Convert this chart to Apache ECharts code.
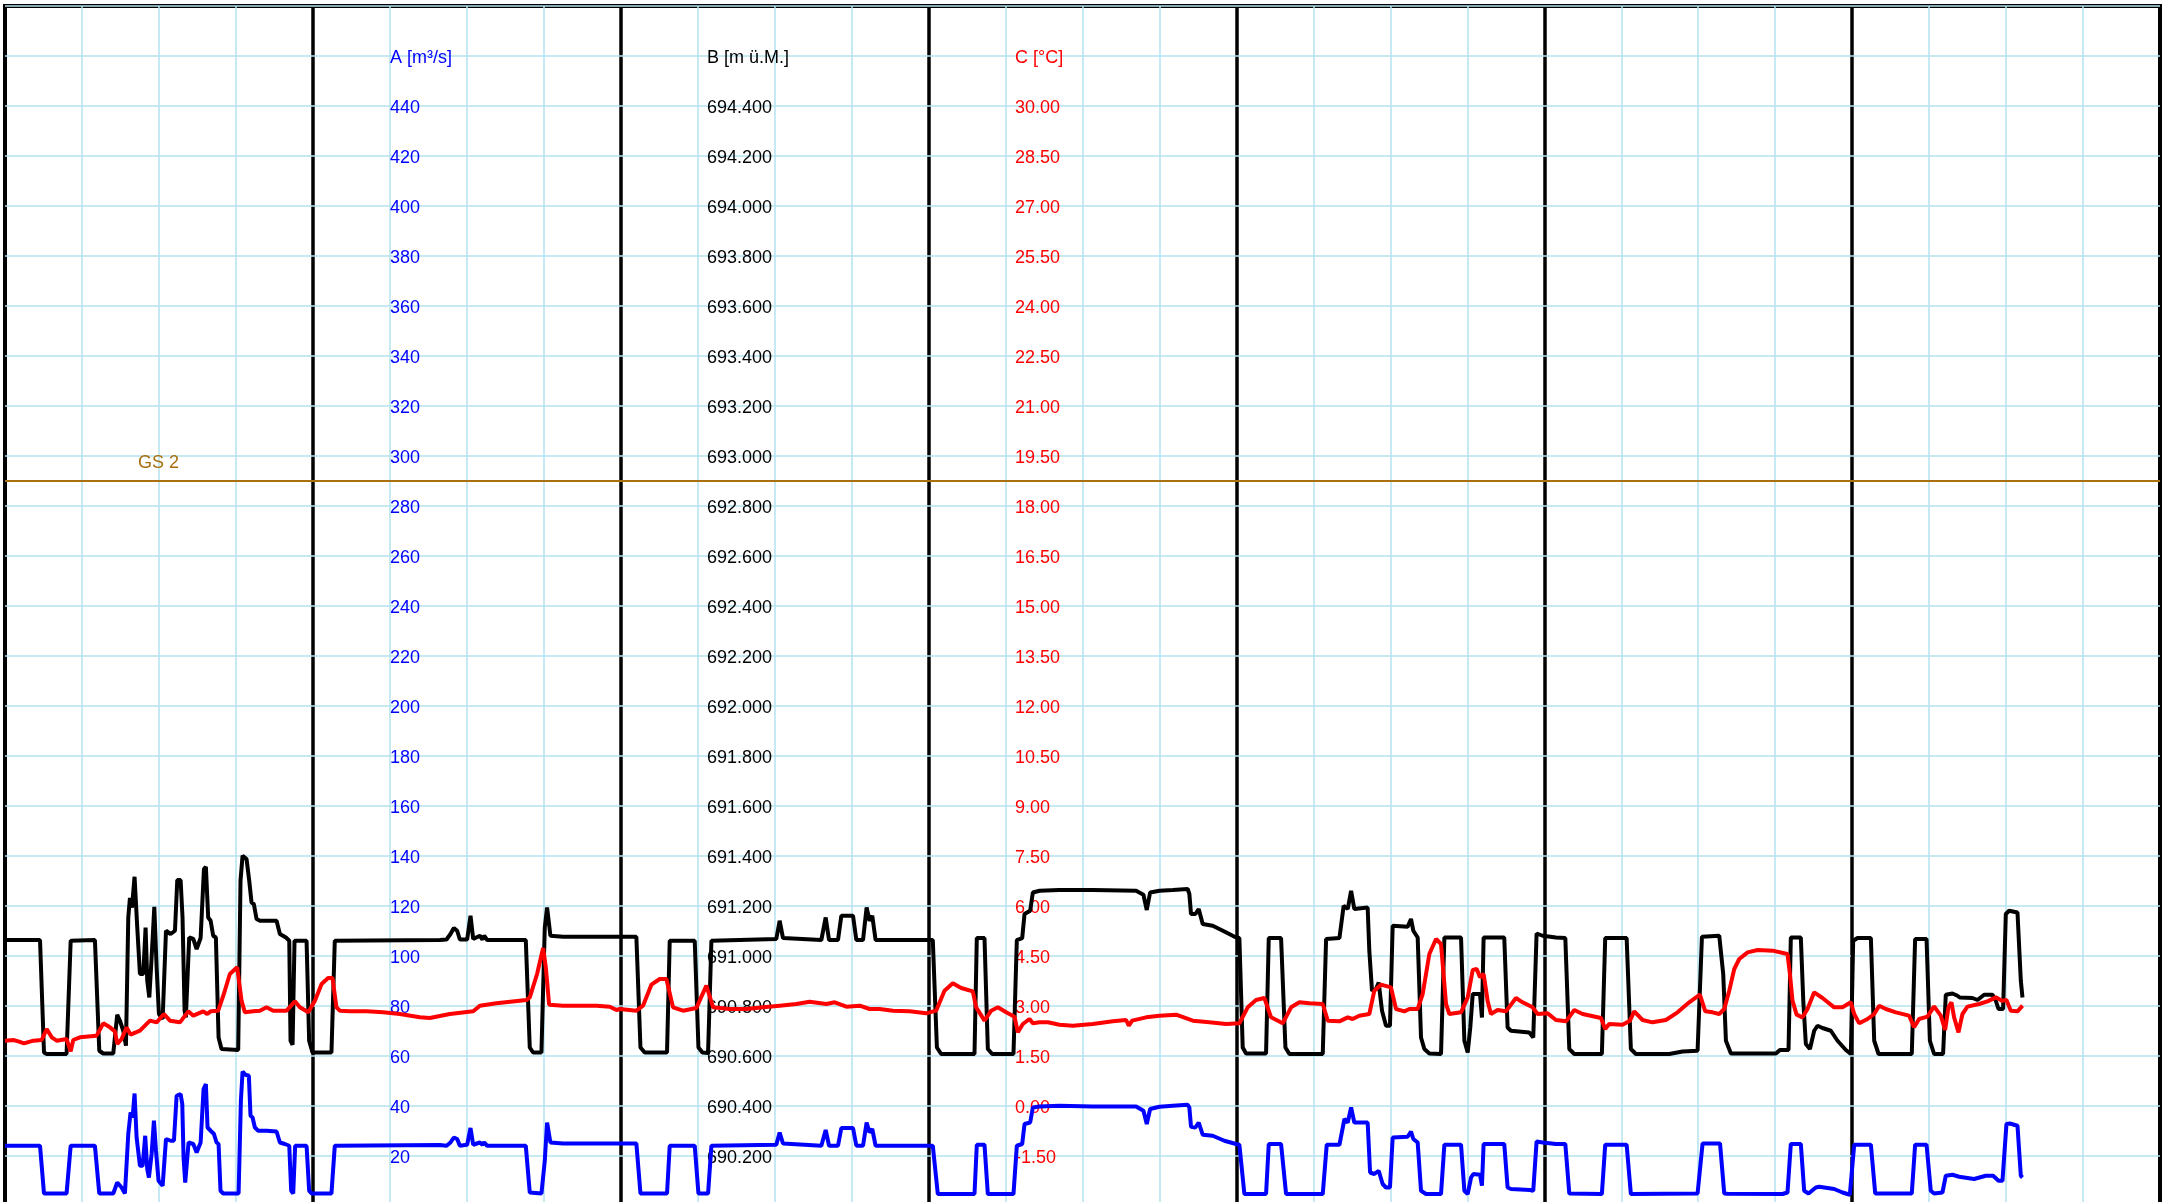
<!DOCTYPE html>
<html><head><meta charset="utf-8">
<script src="https://cdn.jsdelivr.net/npm/echarts@6/dist/echarts.min.js"></script>
<style>html,body{margin:0;padding:0;background:#fff}#c{width:2164px;height:1202px}</style>
</head><body><div id="c"></div>
<script>
// ---- Data (x = hours from start of the 7-day window) ----
const flowTime = [0,2.73,3.04,4.80,5.12,7.01,7.35,8.44,8.75,9.09,9.35,9.61,9.79,9.95,10.10,10.26,10.52,10.73,10.93,11.09,11.22,11.43,11.61,11.77,11.97,12.29,12.39,12.55,12.91,13.17,13.38,13.69,13.82,13.92,14.05,14.31,14.68,14.94,15.25,15.48,15.66,15.79,16.03,16.29,16.49,16.65,16.80,17.01,18.21,18.39,18.52,18.75,19.01,19.14,19.30,19.48,19.74,20.39,21.17,21.43,21.82,22.16,22.31,22.47,22.62,23.51,23.71,23.92,25.45,25.71,33.90,
34.42,34.73,34.99,35.25,35.46,36.03,36.29,36.50,37.02,37.22,37.35,37.59,40.60,40.91,41.82,42.08,42.26,42.52,43.51,49.22,49.54,51.61,51.82,53.77,54.06,54.81,55.07,60.13,60.39,60.65,63.64,63.98,64.24,64.94,65.20,66.11,66.37,66.89,67.17,67.40,67.61,67.87,72.33,72.72,75.58,75.76,76.36,76.62,78.62,78.88,79.30,79.48,79.92,80.13,80.65,82.20,84.80,88.18,88.75,89.01,89.27,90.00,91.04,92.20,92.33,92.46,92.80,93.06,93.37,94.15,95.06,95.97,96.23,96.62,98.31,98.52,99.48,99.87,102.73,103.04,104.03,104.42,104.68,104.94,105.19,106.23,106.42,106.75,107.09,107.40,107.66,107.97,108.18,109.35,109.61,109.79,110.13,110.39,110.78,111.95,112.21,113.51,113.77,114.03,114.29,114.47,114.99,115.14,115.27,116.88,117.14,117.40,118.88,119.14,119.40,119.87,120.91,121.64,121.95,124.49,124.75,126.42,126.75,131.95,132.34,133.70,134.03,134.29,138.57,138.96,139.09,139.22,140.00,140.26,140.60,141.17,141.43,142.60,143.25,143.82,144.16,145.46,145.80,148.65,148.91,149.80,150.13,150.39,151.04,151.30,151.82,152.34,153.51,154.42,154.99,155.41,155.72,156.03,156.29,156.89,157.15,157.28];
const flowValue = [24.1,24.1,5.0,5.0,24.1,24.1,5.0,5.0,9.4,7.4,5.0,28.8,37.4,35.4,45.0,27.4,16.1,16.1,28.1,14.8,11.4,20.8,34.1,22.1,10.1,8.1,8.8,26.8,26.1,26.1,44.1,44.8,40.8,19.4,9.4,25.4,24.8,21.4,25.4,46.8,48.8,31.4,30.1,28.8,25.4,24.8,6.1,5.0,5.0,42.1,53.8,52.5,52.1,36.1,35.4,31.4,30.1,30.1,29.8,25.4,24.8,24.1,6.1,5.0,24.1,24.1,6.1,5.0,5.0,24.1,24.4,
24.1,25.4,27.4,26.8,24.1,24.5,31.2,24.5,25.4,24.5,25.4,24.1,24.1,5.4,5.0,18.1,33.4,25.4,25.0,25.0,5.0,5.0,24.1,24.1,5.0,5.0,24.1,24.5,29.4,25.0,24.1,30.4,24.1,24.1,31.2,31.2,24.1,24.1,33.4,29.4,30.8,24.1,24.1,4.8,4.8,24.5,24.5,4.8,4.8,24.1,24.8,32.8,33.4,39.4,39.8,40.1,39.8,39.8,38.1,32.8,38.8,39.7,40.1,40.5,39.4,31.7,31.4,33.4,28.5,28.1,26.1,24.8,24.5,4.8,4.8,24.8,24.8,4.8,4.8,24.5,24.5,34.8,33.4,39.4,33.4,33.4,13.4,12.8,14.1,8.8,7.4,7.4,27.4,27.7,29.8,26.8,25.4,6.1,4.8,4.8,24.5,24.5,6.1,4.8,11.4,12.8,12.5,8.1,24.8,24.8,7.4,6.8,6.4,6.1,25.8,25.4,24.8,24.8,5.0,4.8,24.5,24.5,4.8,5.0,25.0,25.0,5.0,4.9,4.8,5.4,6.1,24.8,24.8,6.1,5.0,7.4,7.7,6.8,5.4,4.5,24.5,24.5,5.0,5.0,24.5,24.5,6.1,5.0,5.4,12.1,12.5,11.7,10.8,12.1,12.1,10.1,10.1,32.8,33.0,32.1,12.1,11.4];

const levelTime = [0,2.73,3.04,3.25,4.80,5.12,7.01,7.35,7.66,8.44,8.75,8.96,9.22,9.43,9.61,9.74,9.90,10.10,10.31,10.52,10.78,10.96,11.09,11.25,11.43,11.64,11.82,12.00,12.29,12.55,12.91,13.25,13.43,13.69,13.84,14.00,14.10,14.36,14.68,14.94,15.25,15.51,15.66,15.84,16.03,16.23,16.44,16.65,16.88,18.18,18.36,18.52,18.83,19.04,19.22,19.40,19.61,19.87,21.17,21.43,21.90,22.16,22.26,22.42,22.57,23.51,23.71,23.97,25.45,25.71,33.90,
34.42,34.73,34.99,35.25,35.46,36.03,36.29,36.50,37.02,37.22,37.35,37.59,40.60,40.91,41.17,41.82,42.08,42.26,42.52,43.51,49.22,49.54,49.87,51.61,51.82,53.77,54.06,54.37,54.81,55.07,60.13,60.39,60.65,63.64,63.98,64.24,64.94,65.20,66.11,66.37,66.89,67.17,67.40,67.61,67.87,72.33,72.65,72.98,75.58,75.76,76.36,76.62,76.96,78.62,78.88,79.30,79.48,79.92,80.13,80.65,82.20,84.80,88.18,88.75,89.01,89.27,90.00,91.04,92.20,92.33,92.46,92.80,93.06,93.37,94.15,95.06,95.97,96.23,96.49,96.75,98.31,98.52,99.48,99.82,100.13,102.73,102.99,104.03,104.36,104.68,104.94,105.19,106.23,106.36,106.57,106.88,107.09,107.35,107.66,107.97,108.18,109.35,109.61,109.79,110.13,110.39,110.65,111.04,111.95,112.21,113.51,113.77,114.03,114.23,114.42,114.99,115.14,115.27,116.88,117.14,117.40,118.83,119.14,119.40,119.87,120.91,121.64,121.95,122.34,124.49,124.75,126.42,126.75,127.14,129.74,130.78,131.95,132.29,133.64,133.95,134.16,134.55,138.06,138.37,139.04,139.22,140.00,140.19,140.39,140.71,141.04,141.30,141.69,142.34,142.86,143.51,143.90,144.08,144.42,145.46,145.72,146.06,148.65,148.91,149.80,150.06,150.39,151.09,151.30,151.82,152.21,152.39,153.38,153.77,154.29,154.94,155.20,155.41,155.77,155.98,156.24,156.89,157.15,157.28];
const levelValue = [691.064,691.064,690.614,690.608,690.608,691.061,691.064,690.621,690.610,690.610,690.765,690.741,690.701,690.641,691.154,691.232,691.194,691.317,691.114,690.928,690.928,691.114,690.901,690.834,690.994,691.197,690.954,690.768,690.748,691.101,691.088,691.101,691.304,691.304,691.154,690.781,690.754,691.074,691.068,691.028,691.072,691.348,691.357,691.154,691.141,691.081,691.074,690.674,690.628,690.624,691.301,691.401,691.388,691.301,691.214,691.208,691.148,691.141,691.141,691.088,691.074,691.061,690.661,690.645,691.061,691.061,690.661,690.614,690.614,691.061,691.064,
691.066,691.088,691.112,691.101,691.066,691.066,691.161,691.068,691.081,691.066,691.081,691.064,691.064,690.634,690.614,690.614,691.114,691.194,691.081,691.077,691.077,690.634,690.614,690.614,691.061,691.061,690.634,690.614,690.612,691.061,691.068,691.141,691.072,691.064,691.154,691.064,691.064,691.161,691.161,691.064,691.064,691.194,691.141,691.161,691.064,691.064,690.634,690.608,690.608,691.072,691.072,690.628,690.608,690.608,691.064,691.072,691.168,691.181,691.254,691.261,691.264,691.264,691.261,691.245,691.184,691.254,691.261,691.264,691.268,691.248,691.168,691.168,691.188,691.128,691.121,691.098,691.074,691.072,690.634,690.610,690.610,691.072,691.072,690.634,690.608,690.608,691.068,691.072,691.201,691.188,691.261,691.188,691.194,691.021,690.861,690.868,690.894,690.781,690.721,690.721,691.121,691.117,691.148,691.101,691.074,690.674,690.628,690.610,690.608,691.074,691.074,690.661,690.614,690.714,690.848,690.848,690.754,691.074,691.074,690.714,690.701,690.694,690.674,691.090,691.081,691.074,691.072,690.628,690.608,690.608,691.072,691.072,690.628,690.608,690.608,690.618,690.621,691.077,691.081,690.928,690.661,690.610,690.610,690.624,690.624,691.074,691.074,690.821,690.648,690.628,690.701,690.721,690.712,690.701,690.661,690.624,690.608,691.061,691.072,691.072,690.661,690.608,690.608,691.068,691.068,690.661,690.608,690.608,690.845,690.850,690.841,690.834,690.832,690.824,690.845,690.845,690.821,690.788,690.788,691.168,691.181,691.174,690.901,690.834];

const tempTime = [0,0.65,1.04,1.48,2.21,2.86,3.25,3.64,4.03,4.80,5.12,5.32,5.84,7.14,7.66,8.18,8.57,8.75,9.09,9.48,9.79,10.52,11.30,11.82,12.39,12.86,13.64,14.29,14.68,15.45,15.77,16.03,16.62,17.06,17.53,18.10,18.44,18.70,19.35,19.87,20.39,20.91,21.95,22.60,22.99,23.64,24.16,24.68,25.19,25.53,25.84,26.10,26.88,28.18,29.48,30.78,32.34,33.12,34.68,36.50,37.02,38.31,40.65,40.91,41.48,41.95,42.16,42.42,43.51,44.81,46.11,47.15,47.67,47.93,49.22,49.74,50.39,51.04,51.56,52.08,52.86,53.90,54.29,54.68,55.20,56.50,57.79,59.09,60.39,61.69,62.73,64.03,64.68,65.59,66.63,67.40,68.18,69.22,70.52,71.81,72.59,73.24,73.89,74.54,75.45,75.71,76.36,76.88,77.40,78.05,78.70,78.96,79.35,79.87,80.13,80.65,81.30,82.20,83.24,84.80,86.36,87.40,87.61,87.87,88.96,90.00,91.30,92.60,93.89,95.19,96.23,96.88,97.53,98.18,98.70,99.61,100.26,100.91,101.69,102.73,103.12,104.03,104.68,105.06,105.58,106.36,106.75,107.27,108.05,108.44,109.09,109.48,110.13,110.52,111.04,111.56,111.95,112.34,112.60,113.51,114.03,114.42,114.73,114.99,115.27,115.58,115.84,116.36,117.01,117.79,118.31,119.09,119.48,120.26,120.91,121.69,122.34,122.99,124.42,124.75,125.06,126.10,126.68,127.01,127.66,128.44,129.48,130.39,131.30,132.13,132.55,133.12,133.64,134.03,134.42,134.81,135.20,135.85,136.63,137.80,138.96,139.15,139.35,139.67,140.13,140.52,141.04,141.69,142.60,143.25,143.90,144.16,144.55,145.20,145.72,146.11,146.63,147.41,148.44,148.83,149.22,149.87,150.39,150.91,151.25,151.51,151.74,151.95,152.29,152.60,152.99,153.90,154.55,155.20,155.67,156.03,156.37,156.89,157.28];
const tempValue = [1.96,1.98,1.94,1.88,1.96,1.98,2.31,2.06,1.96,2.01,1.64,1.98,2.06,2.11,2.48,2.36,2.24,1.86,2.01,2.36,2.14,2.26,2.56,2.51,2.76,2.56,2.51,2.84,2.71,2.84,2.76,2.84,2.86,3.36,3.96,4.16,3.16,2.81,2.84,2.86,2.96,2.86,2.86,3.14,2.96,2.81,3.16,3.66,3.84,3.84,2.96,2.86,2.84,2.84,2.81,2.76,2.66,2.64,2.76,2.84,3.01,3.08,3.18,3.26,3.96,4.74,4.16,3.04,3.01,3.01,3.01,2.98,2.88,2.91,2.86,3.01,3.64,3.81,3.81,2.96,2.86,2.94,3.28,3.61,2.96,2.91,2.91,2.96,3.01,3.06,3.13,3.06,3.11,2.98,3.01,2.91,2.91,2.86,2.84,2.78,2.86,3.46,3.68,3.54,3.44,2.96,2.56,2.86,2.96,2.81,2.68,2.21,2.46,2.61,2.48,2.51,2.51,2.44,2.41,2.46,2.54,2.58,2.41,2.56,2.66,2.71,2.74,2.56,2.51,2.46,2.48,2.96,3.18,3.24,2.66,2.48,2.96,3.11,3.08,3.06,2.56,2.54,2.66,2.61,2.71,2.76,3.46,3.64,3.56,2.91,2.84,2.91,2.91,3.36,4.56,5.01,4.86,3.06,2.76,2.81,3.26,4.08,4.11,3.86,3.96,3.16,2.76,2.88,2.84,3.24,3.11,2.96,2.76,2.78,2.58,2.54,2.88,2.76,2.64,2.31,2.46,2.44,2.56,2.84,2.58,2.51,2.58,2.81,3.11,3.34,2.84,2.81,2.76,2.91,3.46,4.11,4.41,4.61,4.68,4.66,4.56,3.96,3.16,2.74,2.66,2.91,3.41,3.24,2.96,2.96,3.11,2.76,2.48,2.61,2.76,3.01,2.91,2.81,2.71,2.36,2.61,2.68,2.99,2.71,2.28,2.96,3.11,2.66,2.21,2.76,2.98,3.06,3.14,3.26,3.16,3.18,2.86,2.84,3.01];

// ---- Axis definitions ----
const hourRange = [0, 168];
const gridStepHours = 6;
const dayStepHours = 24;
const flowAxis = { min: 0, max: 480, interval: 20, name: 'A [m\u00b3/s]', nameAt: 460 };
const levelAxis = { min: 690, max: 694.8, interval: 0.2, name: 'B [m \u00fc.M.]', nameAt: 694.6, decimals: 3 };
const tempAxis = { min: -3, max: 33, interval: 1.5, name: 'C [\u00b0C]', nameAt: 31.5, decimals: 2 };
const limitLine = { value: 290, label: 'GS 2' };

const pair = (t, v) => t.map((x, i) => [x, v[i]]);
const near = (a, b) => Math.abs(a - b) < 1e-6;

const FONT = 'Liberation Sans, Arial, Helvetica, sans-serif';
const GRIDC = '#b4e2ef';

function labelFmt(ax) {
  return function (v) {
    if (near(v, ax.nameAt)) return ax.name;
    if (v <= ax.min + 1e-6 || v >= ax.max - 1e-6) return '';
    return ax.decimals != null ? v.toFixed(ax.decimals) : String(Math.round(v));
  };
}

function yAx(ax, offset, color, showSplit) {
  return {
    type: 'value', position: 'left', offset: offset,
    min: ax.min, max: ax.max, interval: ax.interval,
    z: 1,
    axisLine: { show: false }, axisTick: { show: false },
    axisLabel: { inside: true, margin: 0, color: color, fontSize: 18, fontFamily: FONT,
      verticalAlign: 'top', lineHeight: 5,
      formatter: labelFmt(ax), showMinLabel: true, showMaxLabel: true },
    splitLine: { show: showSplit, lineStyle: { color: GRIDC, width: 1.5 } }
  };
}

const chart = echarts.init(document.getElementById('c'), null, { renderer: 'canvas' });
chart.setOption({
  animation: false,
  backgroundColor: '#ffffff',
  grid: { left: 5, top: 6, width: 2155, height: 1200, show: true, borderColor: '#000', borderWidth: 4,
    backgroundColor: 'transparent', containLabel: false, outerBoundsMode: 'none' },
  xAxis: [
    { type: 'value', min: hourRange[0], max: hourRange[1], interval: gridStepHours, z: 0,
      axisLine: { show: false }, axisTick: { show: false }, axisLabel: { show: false },
      splitLine: { show: true, lineStyle: { color: GRIDC, width: 1.5 } } },
    { type: 'value', min: hourRange[0], max: hourRange[1], interval: dayStepHours, z: 0,
      axisLine: { show: false }, axisTick: { show: false }, axisLabel: { show: false },
      splitLine: { show: true, lineStyle: { color: '#000', width: 3.5 } } }
  ],
  yAxis: [
    yAx(flowAxis, -385, '#0000ff', true),
    yAx(levelAxis, -702, '#000000', false),
    yAx(tempAxis, -1010, '#ff0000', false)
  ],
  series: [
    { type: 'line', name: 'B', xAxisIndex: 0, yAxisIndex: 1, data: pair(levelTime, levelValue),
      showSymbol: false, lineStyle: { color: '#000', width: 4 }, z: 3 },
    { type: 'line', name: 'A', xAxisIndex: 0, yAxisIndex: 0, data: pair(flowTime, flowValue),
      showSymbol: false, lineStyle: { color: '#0000ff', width: 4 }, z: 4,
      markLine: { silent: true, symbol: 'none',
        lineStyle: { color: '#a8700f', width: 1.8, type: 'solid' },
        label: { show: true, position: 'insideStartTop', formatter: limitLine.label, color: '#a8700f',
          fontSize: 18, fontFamily: FONT, distance: [133, 9] },
        data: [{ yAxis: limitLine.value }] } },
    { type: 'line', name: 'C', xAxisIndex: 0, yAxisIndex: 2, data: pair(tempTime, tempValue),
      showSymbol: false, lineStyle: { color: '#ff0000', width: 4 }, z: 5 }
  ]
});
</script></body></html>
